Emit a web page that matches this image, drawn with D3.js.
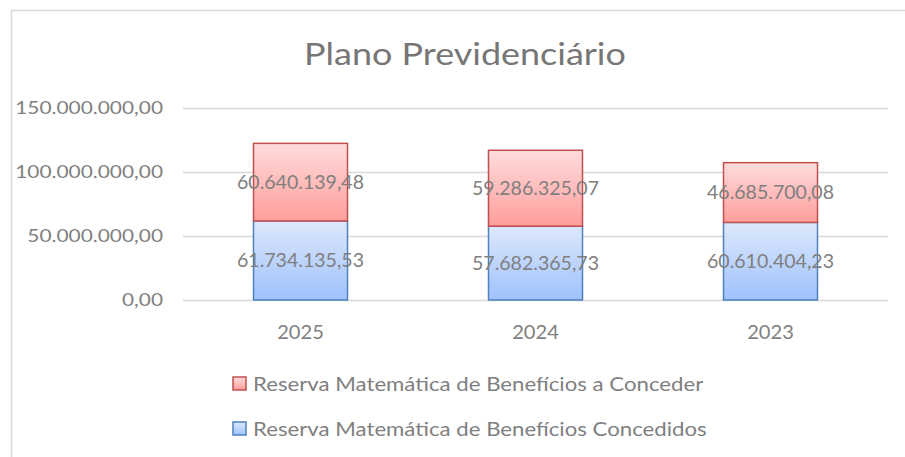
<!DOCTYPE html>
<html>
<head>
<meta charset="utf-8">
<script src="https://cdn.jsdelivr.net/npm/d3@7"></script>
<style>
  body { margin: 0; background: #fff; }
  text { font-family: Lato, "Open Sans", sans-serif; fill: #7f7f7f; }
</style>
</head>
<body>
<svg id="chart" width="905" height="457"></svg>
<script>
const years = ["2025", "2024", "2023"];
const concedidos = [61734135.53, 57682365.73, 60610404.23];
const aConceder = [60640139.48, 59286325.07, 46685700.08];
const yTicks = [0, 50000000, 100000000, 150000000];
const seriesNames = ["Reserva Matemática de Benefícios a Conceder", "Reserva Matemática de Benefícios Concedidos"];

const svg = d3.select("#chart");

// number format pt-BR: 1.234.567,89
const br = d3.formatLocale({decimal: ",", thousands: ".", grouping: [3], currency: ["R$", ""]});
const fmt = br.format(",.2f");

const plot = {left: 183, right: 888, top: 108, bottom: 300};

const x = d3.scaleBand()
    .domain(years)
    .range([plot.left, plot.right])
    .paddingInner(0.6)
    .paddingOuter(0.3);

const y = d3.scaleLinear()
    .domain([0, 150000000])
    .range([plot.bottom, plot.top]);

// text is a bit wider in the original (Calibri), so stretch it horizontally
function Place(sel, fx, fy, sx) {
    return sel.attr("transform", (d, i) => `translate(${fx(d, i)},${fy(d, i)}) scale(${sx},1)`);
}

// gradients
const defs = svg.append("defs");
function AddGradient(id, top, bottom) {
    const g = defs.append("linearGradient")
        .attr("id", id)
        .attr("x1", 0).attr("y1", 0)
        .attr("x2", 0).attr("y2", 1);
    g.append("stop").attr("offset", "0%").attr("stop-color", top);
    g.append("stop").attr("offset", "100%").attr("stop-color", bottom);
}
AddGradient("redGrad", "#ffdcdc", "#ff9e9c");
AddGradient("blueGrad", "#dde8fb", "#9fc2fd");

// chart frame
svg.append("path")
    .attr("d", "M11.5,457 L11.5,10.5 L905,10.5")
    .attr("fill", "none")
    .attr("stroke", "#d9d9d9")
    .attr("stroke-width", 1.5);

// title
Place(svg.append("text").datum(0), () => 465, () => 65, 1.16)
    .attr("text-anchor", "middle")
    .style("font-size", "31px")
    .style("fill", "#767676")
    .text("Plano Previdenciário");

// gridlines
svg.append("g")
    .selectAll("line")
    .data(yTicks)
    .join("line")
    .attr("x1", plot.left)
    .attr("x2", plot.right)
    .attr("y1", d => Math.round(y(d)) + 0.5)
    .attr("y2", d => Math.round(y(d)) + 0.5)
    .attr("stroke", "#d9d9d9")
    .attr("stroke-width", 1.5);

// y axis labels
Place(svg.append("g")
    .selectAll("text")
    .data(yTicks)
    .join("text"), () => 163, d => y(d), 1.16)
    .attr("dy", "0.35em")
    .attr("text-anchor", "end")
    .style("font-size", "18px")
    .text(d => fmt(d));

// stacked bars
const bw = x.bandwidth();
const bars = svg.append("g");

bars.selectAll("rect.conc")
    .data(years)
    .join("rect")
    .attr("class", "conc")
    .attr("x", d => x(d))
    .attr("y", (d, i) => y(concedidos[i]))
    .attr("width", bw)
    .attr("height", (d, i) => y(0) - y(concedidos[i]))
    .attr("fill", "url(#blueGrad)")
    .attr("stroke", "#4f81bd")
    .attr("stroke-width", 1.5);

bars.selectAll("rect.acon")
    .data(years)
    .join("rect")
    .attr("class", "acon")
    .attr("x", d => x(d))
    .attr("y", (d, i) => y(concedidos[i] + aConceder[i]))
    .attr("width", bw)
    .attr("height", (d, i) => y(concedidos[i]) - y(concedidos[i] + aConceder[i]))
    .attr("fill", "url(#redGrad)")
    .attr("stroke", "#c0504d")
    .attr("stroke-width", 1.5);

// data labels
Place(bars.selectAll("text.lconc")
    .data(years)
    .join("text")
    .attr("class", "lconc"), d => x(d) + bw / 2, (d, i) => y(concedidos[i] / 2), 1.03)
    .attr("dy", "0.35em")
    .attr("text-anchor", "middle")
    .style("font-size", "19px")
    .text((d, i) => fmt(concedidos[i]));

Place(bars.selectAll("text.lacon")
    .data(years)
    .join("text")
    .attr("class", "lacon"), d => x(d) + bw / 2, (d, i) => y(concedidos[i] + aConceder[i] / 2), 1.03)
    .attr("dy", "0.35em")
    .attr("text-anchor", "middle")
    .style("font-size", "19px")
    .text((d, i) => fmt(aConceder[i]));

// x axis labels
Place(svg.append("g")
    .selectAll("text")
    .data(years)
    .join("text"), d => x(d) + bw / 2, () => 332, 1.06)
    .attr("dy", "0.35em")
    .attr("text-anchor", "middle")
    .style("font-size", "19px")
    .text(d => d);

// legend
const legend = svg.append("g");
const legendItems = [
    {name: seriesNames[0], fill: "url(#redGrad)", stroke: "#c0504d", y: 384},
    {name: seriesNames[1], fill: "url(#blueGrad)", stroke: "#4f81bd", y: 429}
];
legendItems.forEach(d => {
    legend.append("rect")
        .attr("x", 233)
        .attr("y", d.y - 7)
        .attr("width", 13)
        .attr("height", 13)
        .attr("fill", d.fill)
        .attr("stroke", d.stroke)
        .attr("stroke-width", 1.5);
    Place(legend.append("text").datum(d), () => 253, e => e.y, 1.14)
        .attr("dy", "0.35em")
        .style("font-size", "19.5px")
        .text(d.name);
});
</script>
</body>
</html>
